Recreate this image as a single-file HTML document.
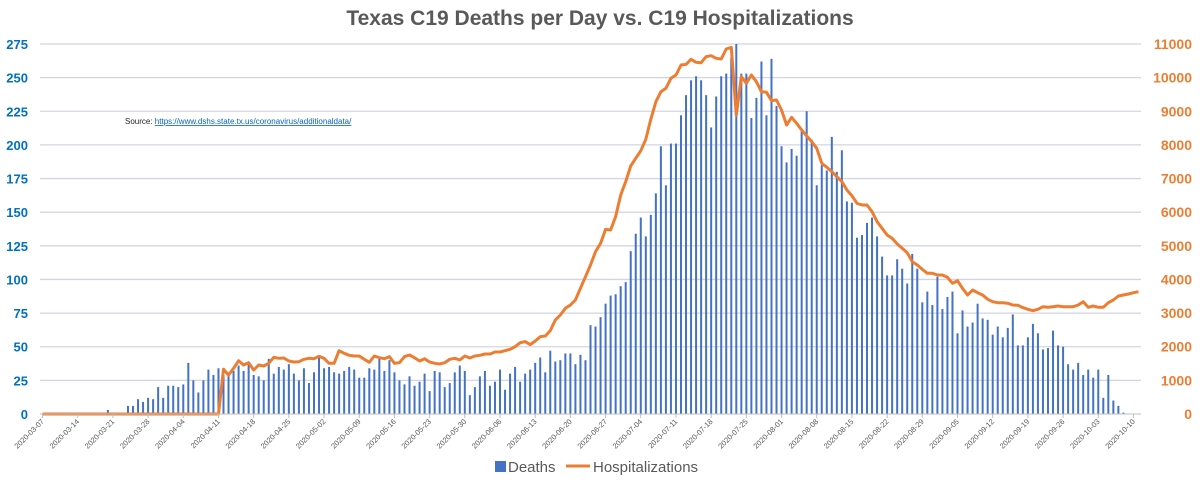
<!DOCTYPE html>
<html><head><meta charset="utf-8"><style>
body{margin:0;background:#fff;}
svg{display:block;font-family:"Liberation Sans",sans-serif;}
</style></head><body>
<svg id="chart" width="1200" height="480" viewBox="0 0 1200 480" xmlns="http://www.w3.org/2000/svg">
<text x="600" y="25" text-anchor="middle" font-size="21" font-weight="bold" fill="#595959">Texas C19 Deaths per Day vs. C19 Hospitalizations</text>
<g id="grid"></g>
<g id="bars"></g>
<g id="line"></g>
<g id="yl"></g>
<g id="yr"></g>
<g id="xa"></g>
<text x="125" y="124" font-size="8" fill="#222">Source:  <tspan fill="#0563c1" text-decoration="underline">https://www.dshs.state.tx.us/coronavirus/additionaldata/</tspan></text>
<g>
<rect x="495" y="461" width="11" height="11" fill="#4472c4"/>
<text x="508" y="472" font-size="15" fill="#595959">Deaths</text>
<line x1="566" y1="466" x2="590" y2="466" stroke="#ed7d31" stroke-width="3"/>
<text x="593" y="472" font-size="15" fill="#595959">Hospitalizations</text>
</g>
</svg>
<script>
const startDate = "2020-03-07";
const deaths = [0,0,0,0,0,0,0,0,0,0,
1,1,0,3,1,0,1,
6,6,11,9,12,11,20,12,21,21,20,22,38,25,16,25,33,29,34,29,30,32,36,32,37,29,28,25,41,30,35,33,37,30,25,34,23,31,43,34,35,31,30,32,35,33,27,27,34,33,41,32,40,31,25,22,28,21,24,30,17,32,31,20,23,31,36,32,14,20,28,32,21,24,33,18,30,35,24,30,33,38,42,31,47,39,40,45,45,37,44,40,66,65,
72,82,88,89,95,98,121,134,146,132,148,164,
199,170,201,201,222,237,248,251,248,237,213,236,251,253,265,275,253,253,220,235,262,222,264,229,199,187,197,192,210,225,204,170,185,181,206,180,196,158,157,131,133,142,146,132,117,103,103,115,108,97,119,108,
83,91,81,102,78,87,91,60,77,65,68,82,71,70,59,65,57,64,74,51,51,57,67,60,48,49,62,51,50,37,33,38,29,33,27,33,12,29,10,6,1,
0,0,0];
const hosp = [0,0,0,0,0,0,0,0,0,0,0,0,0,0,0,0,0,0,0,0,0,0,0,0,0,0,0,0,0,0,0,0,0,0,0,0,
1328,1160,1358,1586,1457,1526,1308,1457,1427,1506,1685,1655,1665,1576,1546,1556,1625,1655,1645,1715,1655,1506,1506,1883,1804,1744,1724,1724,1625,1536,1724,1675,1645,1705,1506,1526,1705,1754,1675,1576,1645,1546,1506,1487,1526,1625,1655,1606,1724,1665,1724,1744,1784,1784,1844,1844,1883,1923,2002,2121,2151,2062,2170,
2299,2319,2478,2795,2944,3142,3241,3390,
3736,4083,4430,4826,5075,5490,5470,5867,6511,6907,7373,7601,7829,8166,8760,9286,9583,9682,9979,10079,10376,10395,10544,10455,10445,10623,10653,10574,10554,10851,10900,8890,10029,9831,10079,9880,9583,9563,9315,9335,9038,8592,8820,8642,8443,8265,8097,7898,7452,7333,7205,7056,6907,6660,6491,6263,6214,6214,6016,5718,
5520,5322,5223,5054,4925,4796,4529,4430,4301,4182,4182,4133,4133,4063,3885,3964,3736,3538,3687,3607,3538,3409,3340,3310,3310,3290,3241,3231,3162,3112,3072,3112,3191,3171,3191,3211,3191,3191,3191,3241,3340,3171,3211,3171,3171,3310,3389,3508,3538,3568,3607,3637];
const leftTicks = [0,25,50,75,100,125,150,175,200,225,250,275];
const rightTicks = [0,1000,2000,3000,4000,5000,6000,7000,8000,9000,10000,11000];

const NS="http://www.w3.org/2000/svg";
const X0=40,X1=1141,Y0=414,Y1=44;
const N=deaths.length, bw=(X1-X0)/N;
const xC=i=>X0+bw*(i+0.5);
const yL=v=>Y0-(v/275)*(Y0-Y1);
const yR=v=>Y0-(v/11000)*(Y0-Y1);
function mk(tag,attrs,parent){const e=document.createElementNS(NS,tag);for(const k in attrs)e.setAttribute(k,attrs[k]);parent.appendChild(e);return e;}
const grid=document.getElementById('grid'),bars=document.getElementById('bars'),line=document.getElementById('line'),yl=document.getElementById('yl'),yr=document.getElementById('yr'),xa=document.getElementById('xa');
leftTicks.forEach(v=>{
  if(v>0){const g=mk('line',{x1:X0,x2:X1,y1:yL(v),y2:yL(v),stroke:'#d4d4e4','stroke-width':1.3},grid);
  
  }
  const t=mk('text',{x:28,y:yL(v)+5,'text-anchor':'end','font-size':13,'font-weight':'bold',fill:'#0070c0'},yl);
  
  
  t.textContent=v;
});
rightTicks.forEach(v=>{
  const t=mk('text',{x:1192,y:yR(v)+5,'text-anchor':'end','font-size':14,'font-weight':'bold',fill:'#ed7d31'},yr);
  
  
  t.textContent=v;
});
deaths.forEach((v,i)=>{
  if(v<=0)return;
  const r=mk('rect',{x:xC(i)-1,y:yL(v),width:2,height:Y0-yL(v),fill:'#4472c4'},bars);
  
  
});
const p=mk('polyline',{points:hosp.map((v,i)=>xC(i).toFixed(1)+','+yR(v).toFixed(1)).join(' '),fill:'none',stroke:'#ed7d31','stroke-width':3,'stroke-linejoin':'round'},line);


const ax=mk('line',{x1:X0,x2:X1,y1:Y0,y2:Y0,stroke:'#bfbfbf','stroke-width':1},xa);


const sd=new Date(startDate+"T00:00:00Z");
for(let i=0;i<N;i+=7){
  const d=new Date(sd.getTime()+i*86400000);
  const s=d.toISOString().slice(0,10);
  const x=xC(i);
  const tk=mk('line',{x1:x,x2:x,y1:Y0,y2:Y0+4,stroke:'#bfbfbf'},xa);
  
  
  const t=mk('text',{x:x+2,y:Y0+8,'text-anchor':'end','font-size':7.5,fill:'#595959',transform:`rotate(-45 ${x+2} ${Y0+8})`},xa);
  
  
  t.textContent=s;
}
</script>
</body></html>
